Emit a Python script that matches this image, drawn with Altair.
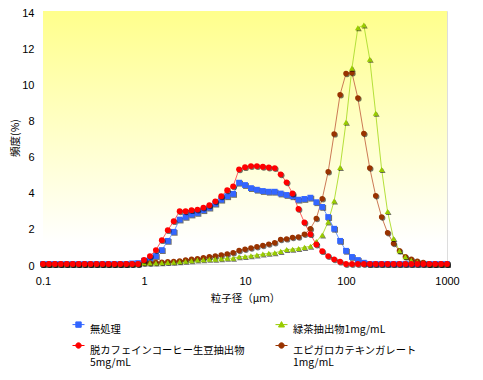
import altair as alt
import pandas as pd

# particle size bins (µm)
sizes = [
    0.1, 0.1145, 0.1311, 0.1501, 0.1719, 0.1968, 0.2254, 0.2581, 0.2955, 0.3383, 0.3874, 0.4436, 0.508, 0.5816, 0.666, 0.7626, 0.8733,
    1.0, 1.145, 1.311, 1.501, 1.719, 1.968, 2.254, 2.581, 2.955, 3.383, 3.874, 4.436, 5.08, 5.816, 6.66, 7.626, 8.733,
    10.0, 11.45, 13.11, 15.01, 17.19, 19.68, 22.54, 25.81, 29.55, 33.83, 38.74, 44.36, 50.8, 58.16, 66.6, 76.26, 87.33,
    100.0, 114.5, 131.1, 150.1, 171.9, 196.8, 225.4, 258.1, 295.5, 338.3, 387.4, 443.6, 508.0, 581.6, 666.0, 762.6, 873.3,
    1000.0,
]

untreated = [0] * 15 + [0.03, 0.05] + [
    0.18, 0.26, 0.44, 0.77, 1.28, 1.78, 2.46, 2.61, 2.74, 2.83, 2.98, 3.12, 3.34, 3.56, 3.75, 3.88, 4.5,
    4.37, 4.2, 4.11, 4.04, 4.0, 4.0, 3.9, 3.82, 3.75, 3.56, 3.6, 3.67, 3.42, 3.16, 2.6, 1.95, 1.28,
    0.73, 0.39, 0.22, 0.07] + [0] * 14

coffee = [0] * 17 + [
    0.22, 0.44, 0.77, 1.32, 1.87, 2.37, 2.92, 2.92, 2.98, 3.01, 3.12, 3.25, 3.47, 3.75, 4.08, 4.3, 5.24,
    5.36, 5.42, 5.42, 5.38, 5.34, 5.31, 4.96, 4.52, 3.9, 3.05, 2.3, 1.65, 1.08, 0.71, 0.44, 0.26, 0.13] + [0] * 18

greentea = [0] * 17 + [
    0.05, 0.05, 0.06, 0.07, 0.08, 0.1, 0.12, 0.15, 0.18, 0.22, 0.24, 0.26, 0.27, 0.29, 0.32, 0.32, 0.4,
    0.41, 0.46, 0.5, 0.55, 0.59, 0.62, 0.7, 0.8, 0.82, 0.86, 0.92, 0.98, 1.25, 1.6, 2.33, 3.49, 5.34,
    7.84, 10.84, 13.07, 13.22, 11.33, 8.34, 5.23, 2.9, 1.41, 0.73, 0.4, 0.2, 0.11, 0.05] + [0] * 4

egcg = [0] * 17 + [
    0.05, 0.06, 0.08, 0.1, 0.12, 0.14, 0.17, 0.22, 0.26, 0.29, 0.35, 0.4, 0.44, 0.5, 0.56, 0.62, 0.75,
    0.81, 0.88, 0.95, 1.03, 1.1, 1.17, 1.36, 1.39, 1.47, 1.5, 1.65, 1.95, 2.52, 3.61, 5.1, 7.2, 9.37,
    10.54, 10.58, 9.18, 7.22, 5.31, 3.78, 2.6, 1.73, 1.14, 0.73, 0.4, 0.26, 0.15, 0.08] + [0] * 4

# order: legend fills column by column
names = ["無処理", "脱カフェインコーヒー生豆抽出物|5mg/mL", "緑茶抽出物1mg/mL", "エピガロカテキンガレート|1mg/mL"]
series_values = [untreated, coffee, greentea, egcg]
marker_colors = ["#3366FF", "#FF0000", "#99CC00", "#993300"]
line_colors = ["#6F9BFF", "#FF6060", "#B5E03A", "#CC7A55"]
marker_shapes = ["square", "circle", "triangle-up", "circle"]
marker_sizes = [34, 34, 34, 30]
legend_paths = [
    "M-1,0H1M-0.45,-0.45H0.45V0.45H-0.45Z",
    "M-1,0H1M0.45,0A0.45,0.45,0,1,1,-0.45,0A0.45,0.45,0,1,1,0.45,0Z",
    "M-1,0H1M0,-0.5L0.5,0.4H-0.5Z",
    "M-1,0H1M0.45,0A0.45,0.45,0,1,1,-0.45,0A0.45,0.45,0,1,1,0.45,0Z",
]
draw_order = [0, 3, 2, 1]

rows = []
for n, vals in zip(names, series_values):
    for s, v in zip(sizes, vals):
        rows.append({"series": n, "size": s, "value": v})
df = pd.DataFrame(rows)

W, H = 404, 253

x_enc = alt.X(
    "size:Q",
    scale=alt.Scale(type="log", domain=[0.1, 1000]),
    axis=alt.Axis(
        values=[0.1, 1, 10, 100, 1000], labelExpr="toString(datum.value)", ticks=False,
        grid=False, domain=False, labelPadding=11, labelFont="Liberation Sans", labelFontSize=11,
        labelColor="black", labelFlush=False,
        title="粒子径（μｍ）", titleFont="Noto Sans CJK JP", titleFontSize=10.5, titleFontWeight="normal",
        titleColor="black", titleX=W / 2, titleY=34, titleBaseline="middle",
    ),
)
y_enc = alt.Y(
    "value:Q",
    scale=alt.Scale(domain=[0, 14]),
    axis=alt.Axis(
        values=[0, 2, 4, 6, 8, 10, 12, 14], ticks=False, grid=False, domain=False, labelPadding=9,
        labelOffset=2, labelFont="Liberation Sans", labelFontSize=11, labelColor="black",
        title="頻度(%)", titleFont="Noto Sans CJK JP", titleFontSize=10.5, titleFontWeight="normal",
        titleColor="black", titleX=-28, titleY=H / 2, titleAngle=-90, titleBaseline="middle",
    ),
)

background = alt.Chart(pd.DataFrame({"a": [0]})).mark_rect(
    fill=alt.LinearGradient(
        gradient="linear",
        stops=[alt.GradientStop(color="#FFFF8C", offset=0), alt.GradientStop(color="#FFFFFF", offset=0.92)],
        x1=0, x2=0, y1=0, y2=1,
    )
).encode(x=alt.value(0), x2=alt.value(W), y=alt.value(0), y2=alt.value(H))

layers = [background]
for i in draw_order:
    n = names[i]
    base = alt.Chart(df).transform_filter(alt.datum.series == n)
    layers.append(base.mark_line(color=line_colors[i], strokeWidth=1).encode(x=x_enc, y=y_enc))
for i in draw_order:
    n = names[i]
    base = alt.Chart(df).transform_filter(alt.datum.series == n)
    layers.append(base.mark_point(shape=marker_shapes[i], filled=True, size=marker_sizes[i], color="#000000",
                                  opacity=0.55, xOffset=1, yOffset=1).encode(x=x_enc, y=y_enc))
    layers.append(base.mark_point(shape=marker_shapes[i], filled=True, size=marker_sizes[i],
                                  color=marker_colors[i], opacity=1).encode(x=x_enc, y=y_enc))

leg = alt.Legend(
    title=None, orient="none", legendX=29, legendY=307, columns=2, columnPadding=28, rowPadding=4,
    symbolSize=144, symbolStrokeWidth=1, labelFont="Noto Sans CJK JP", labelFontSize=10.3,
    labelColor="black", labelOffset=5, labelLimit=400, labelExpr="split(datum.label, '|')",
    labelBaseline="top", padding=0,
)
legend_layer = alt.Chart(df).transform_filter("false").mark_point(filled=True, opacity=1).encode(
    x=x_enc, y=y_enc,
    fill=alt.Fill("series:N", scale=alt.Scale(domain=names, range=marker_colors), legend=leg),
    stroke=alt.Stroke("series:N", scale=alt.Scale(domain=names, range=marker_colors), legend=leg),
    shape=alt.Shape("series:N", scale=alt.Scale(domain=names, range=legend_paths), legend=leg),
)
layers.append(legend_layer)

chart = alt.layer(*layers).properties(
    width=W, height=H,
    autosize=alt.AutoSizeParams(type="none"),
    padding={"left": 35, "top": 3, "right": 28, "bottom": 108},
).configure_view(stroke="black", strokeWidth=1.5).configure(background="white")

chart.save("out.html", embed_options={"renderer": "svg", "actions": False})
